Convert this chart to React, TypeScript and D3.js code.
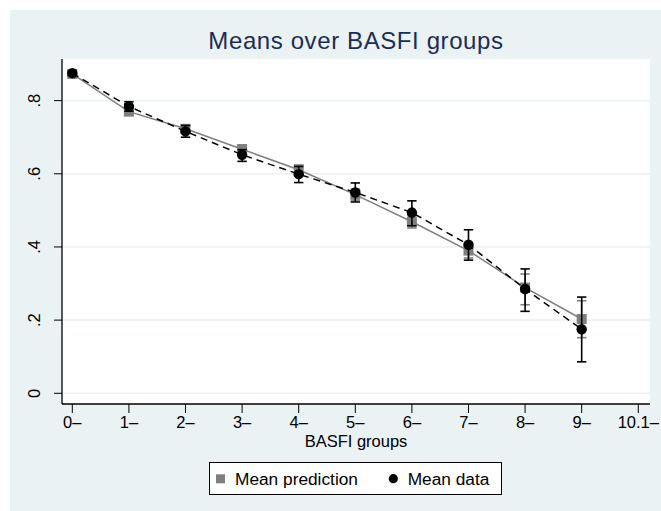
import React from 'react';
import * as d3 from 'd3';

// BASFI groups (x positions) and their tick labels
const groups = [0, 1, 2, 3, 4, 5, 6, 7, 8, 9];
const xTickValues = [0, 1, 2, 3, 4, 5, 6, 7, 8, 9, 10];
const xTickLabels = ['0\u2013', '1\u2013', '2\u2013', '3\u2013', '4\u2013', '5\u2013', '6\u2013', '7\u2013', '8\u2013', '9\u2013', '10.1\u2013'];
const yTickValues = [0, 0.2, 0.4, 0.6, 0.8];
const yTickLabels = ['0', '.2', '.4', '.6', '.8'];

// Mean prediction with its confidence interval
const predMean = [0.873, 0.770, 0.723, 0.667, 0.611, 0.543, 0.469, 0.390, 0.289, 0.203];
const predLo = [0.866, 0.760, 0.713, 0.655, 0.598, 0.528, 0.452, 0.370, 0.242, 0.152];
const predHi = [0.880, 0.780, 0.733, 0.679, 0.624, 0.558, 0.486, 0.410, 0.326, 0.253];

// Mean data with its confidence interval
const dataMean = [0.875, 0.784, 0.716, 0.652, 0.599, 0.549, 0.494, 0.406, 0.285, 0.175];
const dataLo = [0.869, 0.771, 0.700, 0.634, 0.576, 0.523, 0.458, 0.364, 0.224, 0.086];
const dataHi = [0.881, 0.797, 0.732, 0.666, 0.620, 0.575, 0.526, 0.447, 0.340, 0.263];

const W = 661;
const H = 511;
const FONT = '"Liberation Sans", Arial, Helvetica, sans-serif';
const BG = '#eaf2f3';

const plot = { left: 62, right: 650, top: 59, bottom: 404 };

const App: React.FC = () => {
    const x = d3.scaleLinear().domain([-0.182, 10.207]).range([plot.left, plot.right]);
    const y = d3.scaleLinear().domain([-0.0293, 0.9138]).range([plot.bottom, plot.top]);

    const line = d3.line<number>()
        .x((_, i) => x(groups[i]))
        .y(d => y(d));

    const cap = 4.7;

    return (
        <div style={{ position: 'fixed', left: 0, top: 0 }}>
            <svg width={W} height={H} style={{ display: 'block', fontFamily: FONT }}>
                <rect x={0} y={0} width={W} height={H} fill="#ffffff" />
                <rect x={10} y={10} width={W - 10} height={H - 10} fill={BG} />
                <rect x={plot.left} y={plot.top} width={plot.right - plot.left} height={plot.bottom - plot.top} fill="#ffffff" />

                {/* grid lines */}
                {yTickValues.map(v => (
                    <line key={'g' + v} x1={plot.left} x2={plot.right} y1={y(v)} y2={y(v)} stroke={BG} strokeWidth={1.5} />
                ))}

                {/* title */}
                <text x={(plot.left + plot.right) / 2} y={48.5} textAnchor="middle" fontSize={24} fill="#1c2d55" letterSpacing={0.6}>
                    Means over BASFI groups
                </text>

                {/* prediction CI */}
                {groups.map((g, i) => (
                    <g key={'pe' + g} stroke="#7f7f7f" strokeWidth={1.6}>
                        <line x1={x(g)} x2={x(g)} y1={y(predLo[i])} y2={y(predHi[i])} />
                        <line x1={x(g) - cap} x2={x(g) + cap} y1={y(predLo[i])} y2={y(predLo[i])} />
                        <line x1={x(g) - cap} x2={x(g) + cap} y1={y(predHi[i])} y2={y(predHi[i])} />
                    </g>
                ))}
                <path d={line(predMean) as string} fill="none" stroke="#7f7f7f" strokeWidth={1.5} />
                {groups.map((g, i) => (
                    <rect key={'ps' + g} x={x(g) - 5} y={y(predMean[i]) - 5} width={10} height={10} fill="#7f7f7f" />
                ))}

                {/* data CI */}
                {groups.map((g, i) => (
                    <g key={'de' + g} stroke="#000000" strokeWidth={1.6}>
                        <line x1={x(g)} x2={x(g)} y1={y(dataLo[i])} y2={y(dataHi[i])} />
                        <line x1={x(g) - cap} x2={x(g) + cap} y1={y(dataLo[i])} y2={y(dataLo[i])} />
                        <line x1={x(g) - cap} x2={x(g) + cap} y1={y(dataHi[i])} y2={y(dataHi[i])} />
                    </g>
                ))}
                <path d={line(dataMean) as string} fill="none" stroke="#000000" strokeWidth={1.5} strokeDasharray="7 5" />
                {groups.map((g, i) => (
                    <circle key={'dc' + g} cx={x(g)} cy={y(dataMean[i])} r={5.2} fill="#000000" />
                ))}

                {/* axes */}
                <line x1={plot.left} x2={plot.left} y1={plot.top} y2={plot.bottom} stroke="#000000" strokeWidth={1.3} />
                <line x1={plot.left} x2={plot.right} y1={plot.bottom} y2={plot.bottom} stroke="#000000" strokeWidth={1.3} />

                {yTickValues.map((v, i) => (
                    <g key={'yt' + v}>
                        <line x1={plot.left - 8} x2={plot.left} y1={y(v)} y2={y(v)} stroke="#000000" strokeWidth={1} />
                        <text transform={`translate(40,${y(v)}) rotate(-90)`} textAnchor="middle" fontSize={16.5} fill="#000000">
                            {yTickLabels[i]}
                        </text>
                    </g>
                ))}

                {xTickValues.map((v, i) => (
                    <g key={'xt' + v}>
                        <line x1={x(v)} x2={x(v)} y1={plot.bottom} y2={plot.bottom + 9} stroke="#000000" strokeWidth={1} />
                        <text x={x(v)} y={428.3} textAnchor="middle" fontSize={16.5} fill="#000000">
                            {xTickLabels[i]}
                        </text>
                    </g>
                ))}

                <text x={(plot.left + plot.right) / 2} y={446.7} textAnchor="middle" fontSize={16.5} fill="#000000">
                    BASFI groups
                </text>

                {/* legend */}
                <rect x={209.5} y={462.5} width={292} height={32} fill="#ffffff" stroke="#000000" strokeWidth={1} />
                <rect x={216} y={474.3} width={9} height={9} fill="#7f7f7f" />
                <text x={235} y={485} fontSize={17.3} fill="#000000">Mean prediction</text>
                <circle cx={393.3} cy={478.7} r={4.6} fill="#000000" />
                <text x={407.7} y={485} fontSize={17.3} fill="#000000">Mean data</text>
            </svg>
        </div>
    );
};

export default App;
